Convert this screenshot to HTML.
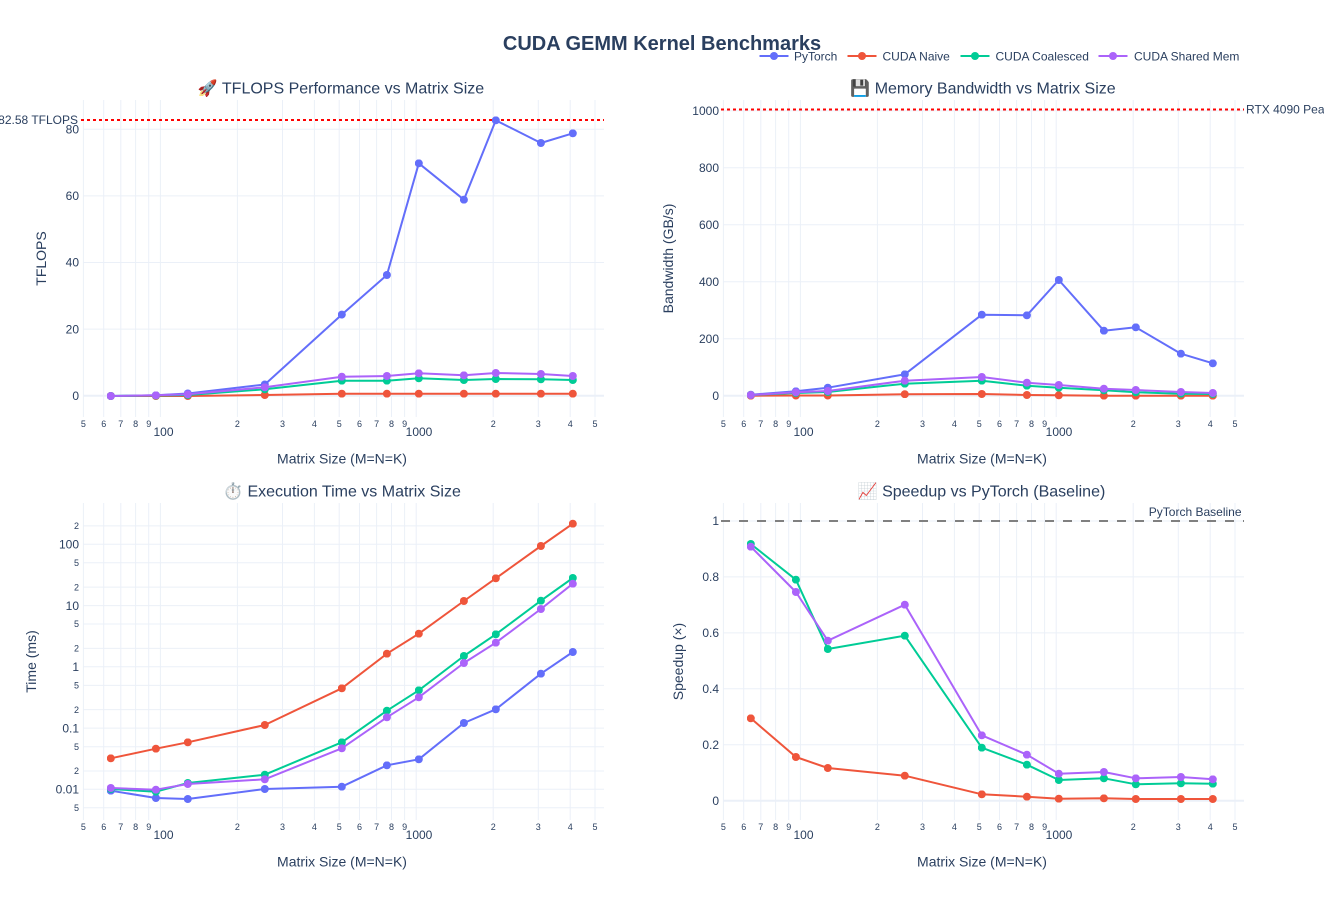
<!DOCTYPE html>
<html>
<head>
<meta charset="utf-8">
<style>
html,body{margin:0;padding:0;background:#fff;}
svg{display:block;font-family:"Liberation Sans","DejaVu Sans",sans-serif;}
.g{stroke:#EBF0F8;stroke-width:1;fill:none;}
.z{stroke:#EBF0F8;stroke-width:2;fill:none;}
.t{fill:#2a3f5f;font-size:12px;}
.tm{fill:#2a3f5f;font-size:9px;}
.st{fill:#2a3f5f;font-size:16px;}
.at{fill:#2a3f5f;font-size:14px;}
.ln{fill:none;stroke-width:2;stroke-linejoin:round;stroke-linecap:round;}
</style>
</head>
<body>
<svg width="1324" height="900" viewBox="0 0 1324 900" xmlns="http://www.w3.org/2000/svg">
<defs>
<marker id="m0" viewBox="0 0 8 8" refX="4" refY="4" markerWidth="8" markerHeight="8" markerUnits="userSpaceOnUse"><circle cx="4" cy="4" r="4" fill="#636efa"/></marker>
<marker id="m1" viewBox="0 0 8 8" refX="4" refY="4" markerWidth="8" markerHeight="8" markerUnits="userSpaceOnUse"><circle cx="4" cy="4" r="4" fill="#EF553B"/></marker>
<marker id="m2" viewBox="0 0 8 8" refX="4" refY="4" markerWidth="8" markerHeight="8" markerUnits="userSpaceOnUse"><circle cx="4" cy="4" r="4" fill="#00cc96"/></marker>
<marker id="m3" viewBox="0 0 8 8" refX="4" refY="4" markerWidth="8" markerHeight="8" markerUnits="userSpaceOnUse"><circle cx="4" cy="4" r="4" fill="#ab63fa"/></marker>
</defs>
<rect width="1324" height="900" fill="#fff"/>

<!-- Main title -->
<text x="662" y="50" text-anchor="middle" style="font-size:20px;font-weight:bold;fill:#2a3f5f">CUDA GEMM Kernel Benchmarks</text>

<!-- Legend -->
<g>
<line x1="759.5" y1="56" x2="788.5" y2="56" stroke="#636efa" stroke-width="2"/><circle cx="774" cy="56" r="4" fill="#636efa"/>
<text class="t" x="794" y="60.5">PyTorch</text>
<line x1="847.5" y1="56" x2="876.5" y2="56" stroke="#EF553B" stroke-width="2"/><circle cx="862" cy="56" r="4" fill="#EF553B"/>
<text class="t" x="882.5" y="60.5">CUDA Naive</text>
<line x1="960.5" y1="56" x2="989.5" y2="56" stroke="#00cc96" stroke-width="2"/><circle cx="975" cy="56" r="4" fill="#00cc96"/>
<text class="t" x="995.5" y="60.5">CUDA Coalesced</text>
<line x1="1098.5" y1="56" x2="1127.5" y2="56" stroke="#ab63fa" stroke-width="2"/><circle cx="1113" cy="56" r="4" fill="#ab63fa"/>
<text class="t" x="1134" y="60.5">CUDA Shared Mem</text>
</g>

<!-- Subplot titles -->
<text class="st" x="341" y="93.5" text-anchor="middle">🚀 TFLOPS Performance vs Matrix Size</text>
<text class="st" x="983" y="93.5" text-anchor="middle">💾 Memory Bandwidth vs Matrix Size</text>
<text class="st" x="342" y="496.5" text-anchor="middle">⏱️ Execution Time vs Matrix Size</text>
<text class="st" x="981.5" y="496.5" text-anchor="middle">📈 Speedup vs PyTorch (Baseline)</text>

<!-- ================= Subplot 1 ================= -->
<g>
<path class="g" d="M83.4,100V417M103.7,100V417M120.8,100V417M135.6,100V417M148.7,100V417M160.4,100V417M237.4,100V417M282.5,100V417M314.4,100V417M339.2,100V417M359.5,100V417M376.6,100V417M391.5,100V417M404.6,100V417M416.2,100V417M493.2,100V417M538.3,100V417M570.2,100V417M595,100V417"/>
<path class="g" d="M83.5,329.1H604M83.5,262.5H604M83.5,195.9H604M83.5,129.3H604"/>
<path class="z" d="M83.5,395.7H604"/>
<g class="t" text-anchor="end">
<text x="79" y="400">0</text><text x="79" y="333.3">20</text><text x="79" y="266.7">40</text><text x="79" y="200.1">60</text><text x="79" y="133.5">80</text>
</g>
<g class="tm" text-anchor="middle">
<text x="83.4" y="427">5</text><text x="103.7" y="427">6</text><text x="120.8" y="427">7</text><text x="135.6" y="427">8</text><text x="148.7" y="427">9</text>
<text x="237.4" y="427">2</text><text x="282.5" y="427">3</text><text x="314.4" y="427">4</text><text x="339.2" y="427">5</text><text x="359.5" y="427">6</text><text x="376.6" y="427">7</text><text x="391.5" y="427">8</text><text x="404.6" y="427">9</text>
<text x="493.2" y="427">2</text><text x="538.3" y="427">3</text><text x="570.2" y="427">4</text><text x="595" y="427">5</text>
</g>
<g class="t" text-anchor="middle"><text x="163.5" y="436">100</text><text x="419" y="436">1000</text></g>
<text class="at" x="342" y="463.5" text-anchor="middle">Matrix Size (M=N=K)</text>
<text class="at" x="46" y="258.5" text-anchor="middle" transform="rotate(-90 46 258.5)">TFLOPS</text>
<line x1="81" y1="120" x2="604" y2="120" stroke="#ff0000" stroke-width="2" stroke-dasharray="3,3"/>
<text class="t" x="78" y="124" text-anchor="end">82.58 TFLOPS</text>
<polyline class="ln" stroke="#636efa" marker-start="url(#m0)" marker-mid="url(#m0)" marker-end="url(#m0)" points="110.8,396 155.9,395.3 187.8,393.5 264.8,384.5 341.8,314.6 386.9,275 418.8,163.3 463.9,199.7 495.8,120.3 540.9,143 572.8,133.3"/>
<polyline class="ln" stroke="#EF553B" marker-start="url(#m1)" marker-mid="url(#m1)" marker-end="url(#m1)" points="110.8,396 155.9,396 187.8,396 264.8,395 341.8,393.7 386.9,393.7 418.8,393.7 463.9,393.7 495.8,393.7 540.9,393.7 572.8,393.7"/>
<polyline class="ln" stroke="#00cc96" marker-start="url(#m2)" marker-mid="url(#m2)" marker-end="url(#m2)" points="110.8,396 155.9,395.5 187.8,395 264.8,389.3 341.8,380.7 386.9,380.7 418.8,378.3 463.9,380 495.8,379 540.9,379.3 572.8,380"/>
<polyline class="ln" stroke="#ab63fa" marker-start="url(#m3)" marker-mid="url(#m3)" marker-end="url(#m3)" points="110.8,396 155.9,395.3 187.8,394.3 264.8,387.3 341.8,376.7 386.9,376 418.8,373.3 463.9,375.3 495.8,373 540.9,374 572.8,376"/>
</g>

<!-- ================= Subplot 2 ================= -->
<g>
<path class="g" d="M723.4,100V417M743.7,100V417M760.8,100V417M775.6,100V417M788.7,100V417M800.4,100V417M877.4,100V417M922.5,100V417M954.4,100V417M979.2,100V417M999.5,100V417M1016.6,100V417M1031.5,100V417M1044.6,100V417M1056.2,100V417M1133.2,100V417M1178.3,100V417M1210.2,100V417M1235,100V417"/>
<path class="g" d="M723.5,338.7H1244M723.5,281.7H1244M723.5,224.7H1244M723.5,167.7H1244M723.5,110.7H1244"/>
<path class="z" d="M723.5,395.7H1244"/>
<g class="t" text-anchor="end">
<text x="719" y="400">0</text><text x="719" y="342.9">200</text><text x="719" y="285.9">400</text><text x="719" y="228.9">600</text><text x="719" y="171.9">800</text><text x="719" y="114.9">1000</text>
</g>
<g class="tm" text-anchor="middle">
<text x="723.4" y="427">5</text><text x="743.7" y="427">6</text><text x="760.8" y="427">7</text><text x="775.6" y="427">8</text><text x="788.7" y="427">9</text>
<text x="877.4" y="427">2</text><text x="922.5" y="427">3</text><text x="954.4" y="427">4</text><text x="979.2" y="427">5</text><text x="999.5" y="427">6</text><text x="1016.6" y="427">7</text><text x="1031.5" y="427">8</text><text x="1044.6" y="427">9</text>
<text x="1133.2" y="427">2</text><text x="1178.3" y="427">3</text><text x="1210.2" y="427">4</text><text x="1235" y="427">5</text>
</g>
<g class="t" text-anchor="middle"><text x="803.5" y="436">100</text><text x="1059" y="436">1000</text></g>
<text class="at" x="982" y="463.5" text-anchor="middle">Matrix Size (M=N=K)</text>
<text class="at" x="673" y="258.5" text-anchor="middle" transform="rotate(-90 673 258.5)">Bandwidth (GB/s)</text>
<line x1="721" y1="109.5" x2="1244" y2="109.5" stroke="#ff0000" stroke-width="2" stroke-dasharray="3,3"/>
<text class="t" x="1246" y="113.5">RTX 4090 Peak</text>
<polyline class="ln" stroke="#636efa" marker-start="url(#m0)" marker-mid="url(#m0)" marker-end="url(#m0)" points="750.8,394.7 795.9,391.3 827.8,387.7 904.8,374.3 981.8,314.7 1026.9,315.3 1058.8,280 1103.9,330.7 1135.8,327.3 1180.9,353.7 1212.8,363.3"/>
<polyline class="ln" stroke="#EF553B" marker-start="url(#m1)" marker-mid="url(#m1)" marker-end="url(#m1)" points="750.8,395.7 795.9,395.5 827.8,395.5 904.8,394.2 981.8,394 1026.9,395 1058.8,395.3 1103.9,395.7 1135.8,395.7 1180.9,395.7 1212.8,395.7"/>
<polyline class="ln" stroke="#00cc96" marker-start="url(#m2)" marker-mid="url(#m2)" marker-end="url(#m2)" points="750.8,395 795.9,393 827.8,392 904.8,383.7 981.8,380.7 1026.9,385.7 1058.8,387.7 1103.9,390.3 1135.8,392.3 1180.9,393.7 1212.8,394"/>
<polyline class="ln" stroke="#ab63fa" marker-start="url(#m3)" marker-mid="url(#m3)" marker-end="url(#m3)" points="750.8,395 795.9,392.3 827.8,391 904.8,380.7 981.8,377 1026.9,382.7 1058.8,385 1103.9,388.7 1135.8,390 1180.9,392 1212.8,393"/>
</g>

<!-- ================= Subplot 3 ================= -->
<g>
<path class="g" d="M83.4,503V820M103.7,503V820M120.8,503V820M135.6,503V820M148.7,503V820M160.4,503V820M237.4,503V820M282.5,503V820M314.4,503V820M339.2,503V820M359.5,503V820M376.6,503V820M391.5,503V820M404.6,503V820M416.2,503V820M493.2,503V820M538.3,503V820M570.2,503V820M595,503V820"/>
<path class="g" d="M83.5,807.7H604M83.5,789.3H604M83.5,771H604M83.5,746.7H604M83.5,728.1H604M83.5,709.6H604M83.5,685.4H604M83.5,666.8H604M83.5,648.4H604M83.5,624H604M83.5,605.6H604M83.5,587.1H604M83.5,562.7H604M83.5,544.3H604M83.5,525.9H604"/>
<g class="t" text-anchor="end">
<text x="79" y="793.5">0.01</text><text x="79" y="732.3">0.1</text><text x="79" y="671">1</text><text x="79" y="609.8">10</text><text x="79" y="548.5">100</text>
</g>
<g class="tm" text-anchor="end">
<text x="79" y="810.9">5</text><text x="79" y="774.2">2</text><text x="79" y="749.9">5</text><text x="79" y="712.8">2</text><text x="79" y="688.6">5</text><text x="79" y="651.6">2</text><text x="79" y="627.2">5</text><text x="79" y="590.3">2</text><text x="79" y="565.9">5</text><text x="79" y="529.1">2</text>
</g>
<g class="tm" text-anchor="middle">
<text x="83.4" y="830">5</text><text x="103.7" y="830">6</text><text x="120.8" y="830">7</text><text x="135.6" y="830">8</text><text x="148.7" y="830">9</text>
<text x="237.4" y="830">2</text><text x="282.5" y="830">3</text><text x="314.4" y="830">4</text><text x="339.2" y="830">5</text><text x="359.5" y="830">6</text><text x="376.6" y="830">7</text><text x="391.5" y="830">8</text><text x="404.6" y="830">9</text>
<text x="493.2" y="830">2</text><text x="538.3" y="830">3</text><text x="570.2" y="830">4</text><text x="595" y="830">5</text>
</g>
<g class="t" text-anchor="middle"><text x="163.5" y="839">100</text><text x="419" y="839">1000</text></g>
<text class="at" x="342" y="866.5" text-anchor="middle">Matrix Size (M=N=K)</text>
<text class="at" x="36" y="661.5" text-anchor="middle" transform="rotate(-90 36 661.5)">Time (ms)</text>
<polyline class="ln" stroke="#636efa" marker-start="url(#m0)" marker-mid="url(#m0)" marker-end="url(#m0)" points="110.8,790.7 155.9,798 187.8,799 264.8,789 341.8,786.7 386.9,765.3 418.8,759.3 463.9,723 495.8,709.3 540.9,673.7 572.8,652"/>
<polyline class="ln" stroke="#EF553B" marker-start="url(#m1)" marker-mid="url(#m1)" marker-end="url(#m1)" points="110.8,758.3 155.9,748.7 187.8,742.3 264.8,725 341.8,688.3 386.9,653.7 418.8,633.7 463.9,601 495.8,578.3 540.9,546 572.8,523.7"/>
<polyline class="ln" stroke="#00cc96" marker-start="url(#m2)" marker-mid="url(#m2)" marker-end="url(#m2)" points="110.8,789 155.9,791.7 187.8,783 264.8,774.7 341.8,742.3 386.9,710.7 418.8,690.3 463.9,656 495.8,634.3 540.9,600.7 572.8,578"/>
<polyline class="ln" stroke="#ab63fa" marker-start="url(#m3)" marker-mid="url(#m3)" marker-end="url(#m3)" points="110.8,788 155.9,789.7 187.8,784 264.8,779.3 341.8,748.3 386.9,717.3 418.8,697.3 463.9,663 495.8,642.7 540.9,609 572.8,583.7"/>
</g>

<!-- ================= Subplot 4 ================= -->
<g>
<path class="g" d="M723.4,503V820M743.7,503V820M760.8,503V820M775.6,503V820M788.7,503V820M800.4,503V820M877.4,503V820M922.5,503V820M954.4,503V820M979.2,503V820M999.5,503V820M1016.6,503V820M1031.5,503V820M1044.6,503V820M1056.2,503V820M1133.2,503V820M1178.3,503V820M1210.2,503V820M1235,503V820"/>
<path class="g" d="M723.5,744.8H1244M723.5,688.8H1244M723.5,632.9H1244M723.5,576.9H1244M723.5,521H1244"/>
<path class="z" d="M723.5,800.7H1244"/>
<g class="t" text-anchor="end">
<text x="719" y="805">0</text><text x="719" y="749">0.2</text><text x="719" y="693">0.4</text><text x="719" y="637.1">0.6</text><text x="719" y="581.1">0.8</text><text x="719" y="525.2">1</text>
</g>
<g class="tm" text-anchor="middle">
<text x="723.4" y="830">5</text><text x="743.7" y="830">6</text><text x="760.8" y="830">7</text><text x="775.6" y="830">8</text><text x="788.7" y="830">9</text>
<text x="877.4" y="830">2</text><text x="922.5" y="830">3</text><text x="954.4" y="830">4</text><text x="979.2" y="830">5</text><text x="999.5" y="830">6</text><text x="1016.6" y="830">7</text><text x="1031.5" y="830">8</text><text x="1044.6" y="830">9</text>
<text x="1133.2" y="830">2</text><text x="1178.3" y="830">3</text><text x="1210.2" y="830">4</text><text x="1235" y="830">5</text>
</g>
<g class="t" text-anchor="middle"><text x="803.5" y="839">100</text><text x="1059" y="839">1000</text></g>
<text class="at" x="982" y="866.5" text-anchor="middle">Matrix Size (M=N=K)</text>
<text class="at" x="683" y="661.5" text-anchor="middle" transform="rotate(-90 683 661.5)">Speedup (×)</text>
<line x1="721" y1="521" x2="1244" y2="521" stroke="#808080" stroke-width="2" stroke-dasharray="9,9"/>
<text class="t" x="1241.5" y="516" text-anchor="end">PyTorch Baseline</text>
<polyline class="ln" stroke="#EF553B" marker-start="url(#m1)" marker-mid="url(#m1)" marker-end="url(#m1)" points="750.8,718.3 795.9,757 827.8,768 904.8,775.7 981.8,794.3 1026.9,796.7 1058.8,798.7 1103.9,798.3 1135.8,799 1180.9,799 1212.8,799"/>
<polyline class="ln" stroke="#00cc96" marker-start="url(#m2)" marker-mid="url(#m2)" marker-end="url(#m2)" points="750.8,544 795.9,579.7 827.8,649 904.8,635.7 981.8,747.7 1026.9,764.7 1058.8,780 1103.9,778.3 1135.8,784.3 1180.9,783.3 1212.8,783.7"/>
<polyline class="ln" stroke="#ab63fa" marker-start="url(#m3)" marker-mid="url(#m3)" marker-end="url(#m3)" points="750.8,546.7 795.9,592 827.8,640.7 904.8,604.7 981.8,735.3 1026.9,754.7 1058.8,773.7 1103.9,772 1135.8,778.3 1180.9,777 1212.8,779.3"/>
</g>
</svg>
</body>
</html>
